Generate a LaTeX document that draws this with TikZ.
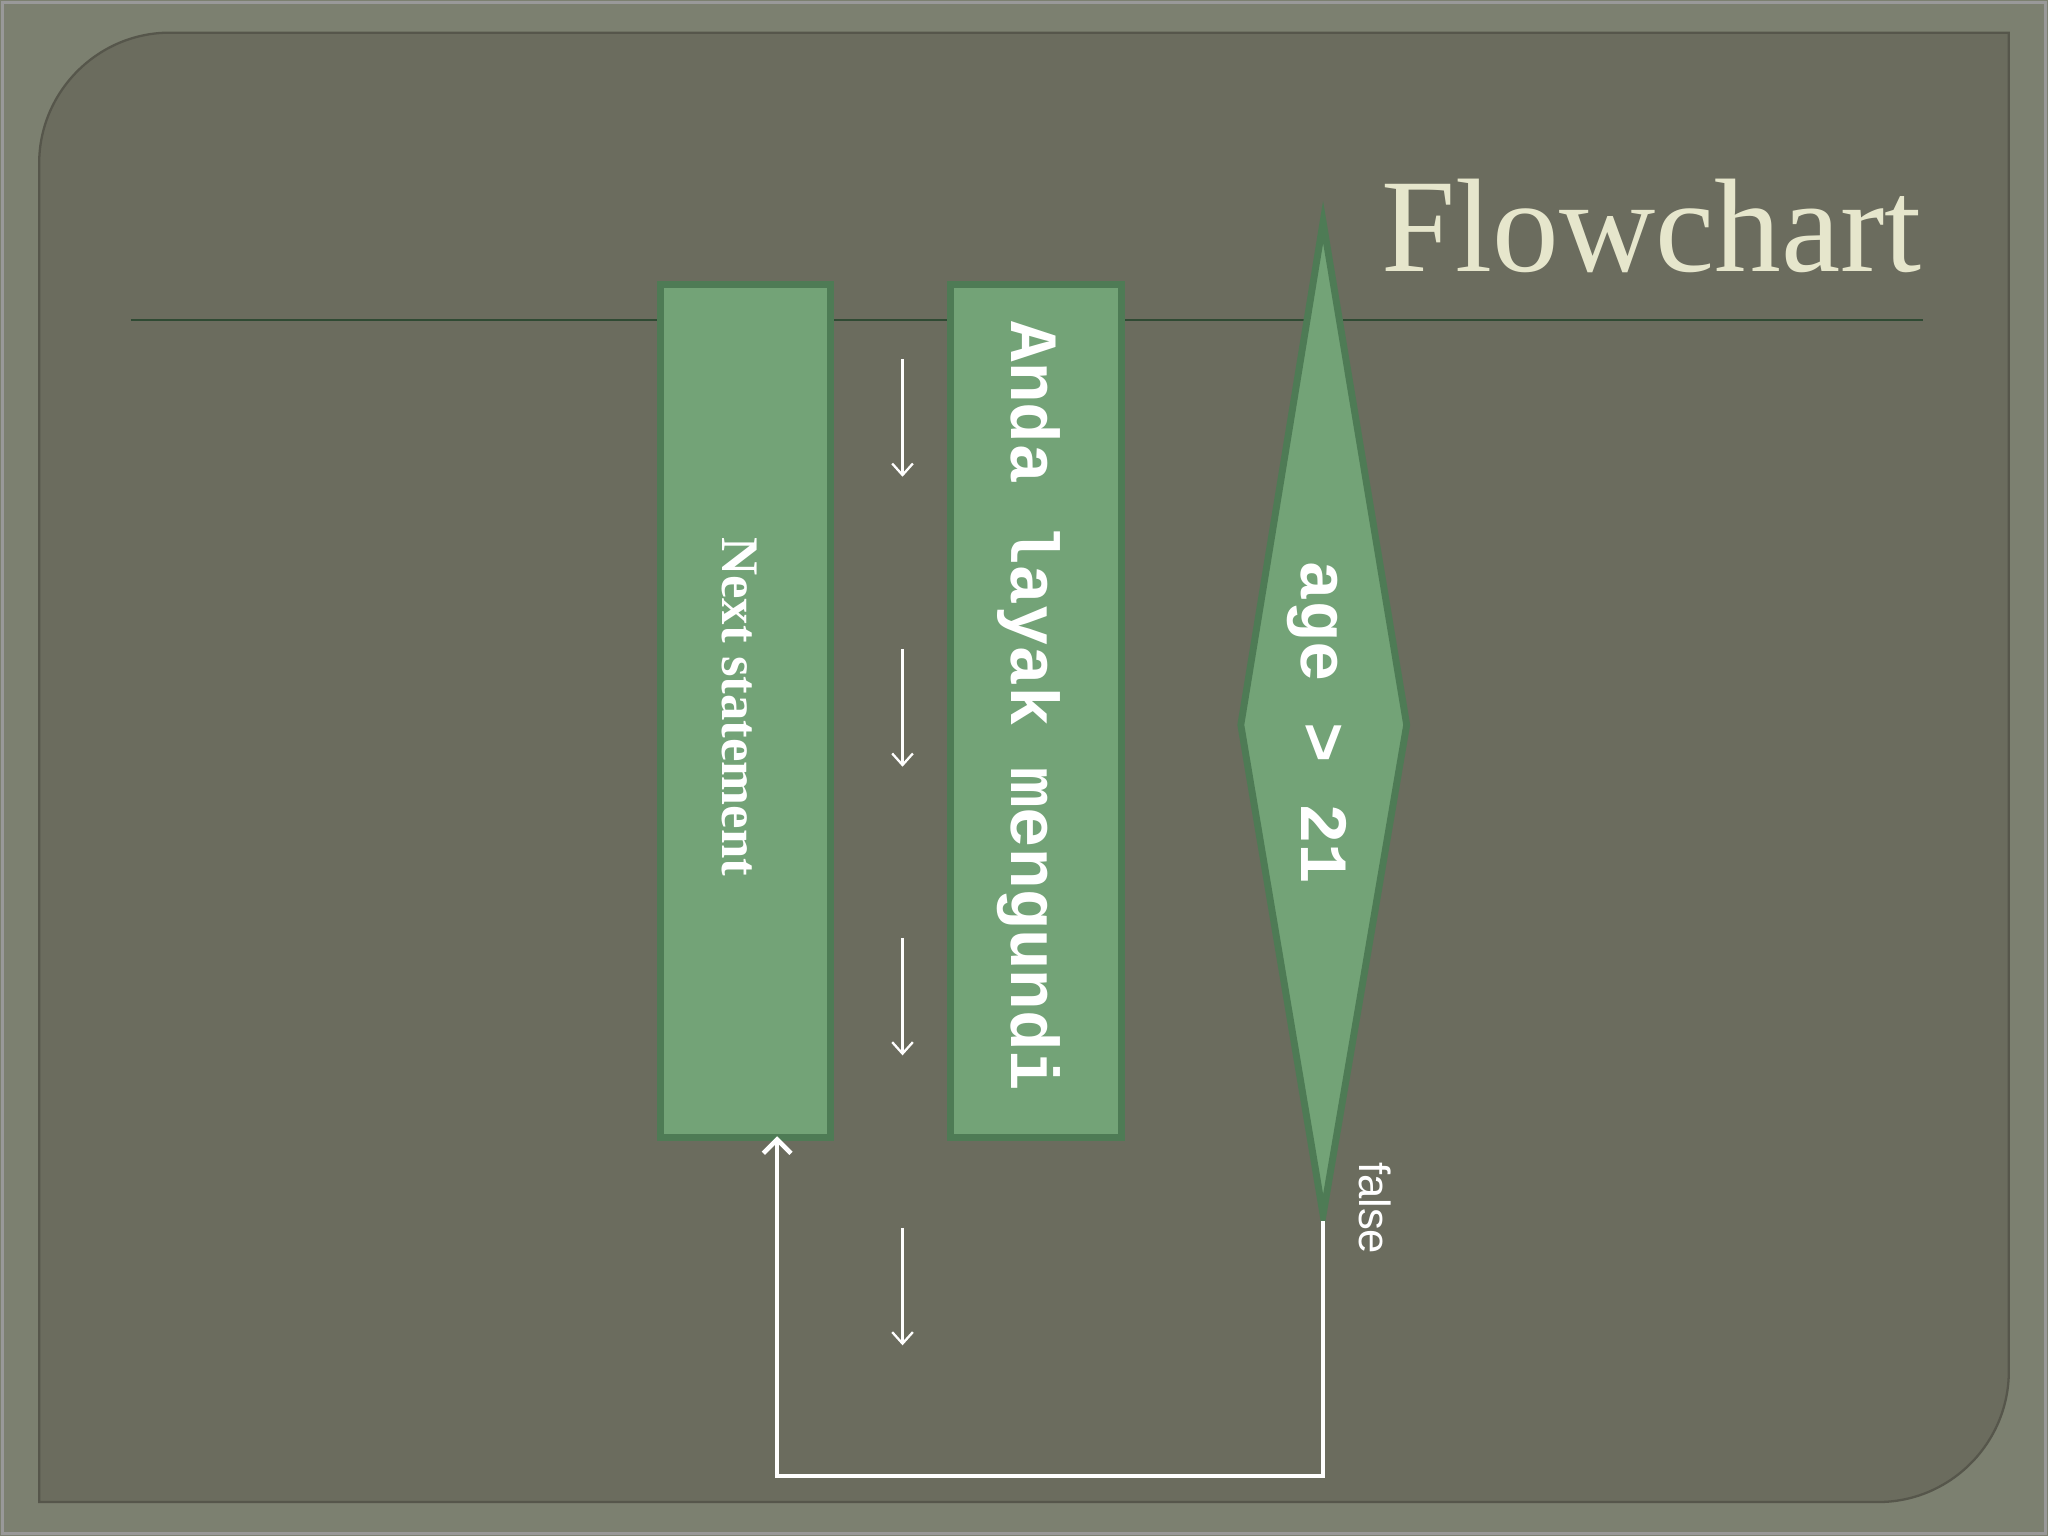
\documentclass[tikz,border=0pt]{standalone}
\usepackage{fontspec}
\newfontfamily\monof{Liberation Mono}
\newfontfamily\sansf{Liberation Sans}
\newfontfamily\seriff{Liberation Serif}
\usetikzlibrary{arrows.meta}
\definecolor{frame}{HTML}{7C8070}
\definecolor{panel}{HTML}{6B6C5E}
\definecolor{boxf}{HTML}{73A377}
\definecolor{boxd}{HTML}{4E7B55}
\definecolor{title}{HTML}{E6E6CC}
\begin{document}
\begin{tikzpicture}[x=0.01cm,y=-0.01cm,
  box/.style={draw=boxd,line width=1.5pt,fill=boxf},
  flow/.style={draw=white,line width=0.5pt},
  arr/.style={flow,-{Straight Barb[length=2.5pt,width=4.5pt]}}]
\useasboundingbox (0,0) rectangle (1568,1176);
\fill[frame] (0,0) rectangle (1568,1176);
\draw[black!40,line width=0.5pt] (2,2) rectangle (1566,1174);
\draw[panel!80!black,line width=0.5pt,fill=panel] (30,1150) -- (30,125) .. controls (30,70) and (75,25) .. (130,25) -- (1538,25) -- (1538,1050) .. controls (1538,1105) and (1493,1150) .. (1438,1150) -- cycle;
\node[text=title,font=\seriff\fontsize{29}{29}\selectfont,anchor=base east,inner sep=0pt] (title) at (1472,208) {Flowchart};
\draw[boxd!60!black,line width=0.6pt] (100,245) -- (1472,245);
\node[box,minimum width=1.3cm,minimum height=6.53cm,anchor=north west] (n1) at (503,215) {};
\node[text=white,font=\seriff\bfseries\fontsize{11.5}{11.5}\selectfont,rotate=-90] (t1) at (566,541) {Next statement};
\node[box,minimum width=1.31cm,minimum height=6.53cm,anchor=north west] (n2) at (725,215) {};
\node[text=white,font=\monof\bfseries\fontsize{14.7}{14.7}\selectfont,rotate=-90] (t2) at (788,541) {Anda layak mengundi};
\coordinate (dt) at (1013,170); \coordinate (db) at (1013,930);
\draw[box] (dt) -- (1077,555) -- (db) -- (950,555) -- cycle;
\node[text=white,font=\monof\bfseries\fontsize{14.7}{14.7}\selectfont,rotate=-90] (t3) at (1008,553) {age > 21};
\node[text=white,font=\sansf\fontsize{9.5}{9.5}\selectfont,rotate=-90] (fl) at (1053,925) {false};
\foreach \y in {275,497,718,940} {
  \coordinate (a\y) at (691,\y); \coordinate (b\y) at (691,\y+90);
  \draw[arr] (a\y) -- (b\y);}
\coordinate (c1) at (1013,935); \coordinate (c2) at (1013,1130); \coordinate (c3) at (595,1130); \coordinate (c4) at (595,870);
\draw[flow,line width=1pt,-{Straight Barb[length=3pt,width=6pt]}] (c1) -- (c2) -- (c3) -- (c4);
\end{tikzpicture}
\end{document}
